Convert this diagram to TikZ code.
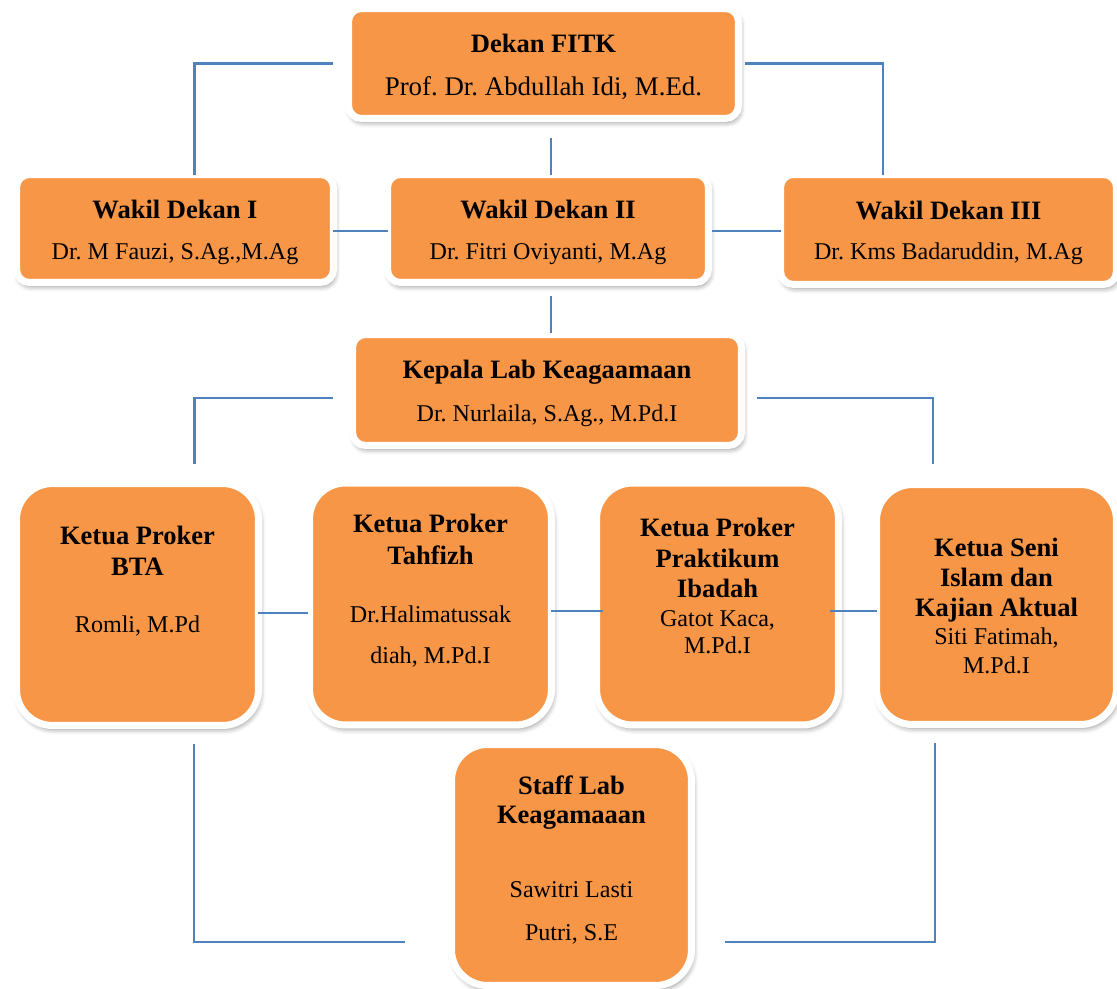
\documentclass[tikz,border=0pt]{standalone}
\usepackage{fontspec}
\setmainfont{Liberation Serif}
\usetikzlibrary{shadows.blur}
\definecolor{boxorange}{HTML}{F79646}
\definecolor{linkblue}{HTML}{4F81BD}
\frenchspacing
\begin{document}
\begin{tikzpicture}[x=0.02cm,y=-0.02cm,
  box/.style={draw=white, line width=0.14cm, fill=boxorange, rounded corners=0.26cm,
    outer sep=0pt, inner sep=0pt,
    blur shadow={shadow xshift=1pt, shadow yshift=-2.2pt, shadow blur radius=3pt, shadow opacity=45}},
  sqbox/.style={box, rounded corners=0.72cm, minimum width=4.84cm, minimum height=4.84cm},
  ttl/.style={anchor=base, font=\fontsize{15.1}{18}\selectfont\bfseries\frenchspacing, inner sep=0pt},
  nm/.style={anchor=base, font=\fontsize{13.7}{16}\selectfont\frenchspacing, inner sep=0pt},
  nmlarge/.style={nm, font=\fontsize{15.3}{18}\selectfont\frenchspacing},
  conn/.style={draw=linkblue, line width=1.2pt}]
\useasboundingbox (0,0) rectangle (1117,989);

% boxes
\node[box, minimum width=7.8cm, minimum height=2.2cm] (dekan) at (543.5,63.5) {};
\node[box, minimum width=6.34cm, minimum height=2.16cm] (wd1) at (175,228.5) {};
\node[box, minimum width=6.42cm, minimum height=2.16cm] (wd2) at (548,228.5) {};
\node[box, minimum width=6.72cm, minimum height=2.2cm] (wd3) at (948.5,229.5) {};
\node[box, minimum width=7.78cm, minimum height=2.22cm] (kepala) at (547,390) {};
\node[sqbox] (bta) at (137.5,604.5) {};
\node[sqbox] (tahfizh) at (430.5,604) {};
\node[sqbox] (prakt) at (717.5,604) {};
\node[sqbox, minimum width=4.8cm, minimum height=4.8cm] (seni) at (996.5,604.5) {};
\node[sqbox, minimum width=4.8cm, minimum height=4.82cm] (staff) at (571.5,865) {};

% texts
\node[ttl] (t-dekan) at (543.5,53) {Dekan FITK};
\node[nmlarge]  (n-dekan) at (543.5,96) {Prof. Dr. Abdullah Idi, M.Ed.};
\node[ttl] (t-wd1) at (175,219) {Wakil Dekan I};
\node[nm]  (n-wd1) at (175,260) {Dr. M Fauzi, S.Ag.,M.Ag};
\node[ttl] (t-wd2) at (548,219) {Wakil Dekan II};
\node[nm]  (n-wd2) at (548,260) {Dr. Fitri Oviyanti, M.Ag};
\node[ttl] (t-wd3) at (948.5,220) {Wakil Dekan III};
\node[nm]  (n-wd3) at (948.5,260) {Dr. Kms Badaruddin, M.Ag};
\node[ttl] (t-kep) at (547,379) {Kepala Lab Keagaamaan};
\node[nm]  (n-kep) at (547,422) {Dr. Nurlaila, S.Ag., M.Pd.I};

\node[ttl] (t-bta1) at (137.5,545) {Ketua Proker};
\node[ttl] (t-bta2) at (137.5,576) {BTA};
\node[nm]  (n-bta) at (137.5,633) {Romli, M.Pd};

\node[ttl] (t-tah1) at (430.5,533) {Ketua Proker};
\node[ttl] (t-tah2) at (430.5,565) {Tahfizh};
\node[nm]  (n-tah1) at (430.5,623) {Dr.Halimatussak};
\node[nm]  (n-tah2) at (430.5,664) {diah, M.Pd.I};

\node[ttl] (t-pra1) at (717.5,537) {Ketua Proker};
\node[ttl] (t-pra2) at (717.5,568) {Praktikum};
\node[ttl] (t-pra3) at (717.5,598) {Ibadah};
\node[nm]  (n-pra1) at (717.5,627) {Gatot Kaca,};
\node[nm]  (n-pra2) at (717.5,654) {M.Pd.I};

\node[ttl] (t-sen1) at (996.5,557) {Ketua Seni};
\node[ttl] (t-sen2) at (996.5,587) {Islam dan};
\node[ttl] (t-sen3) at (996.5,617) {Kajian Aktual};
\node[nm]  (n-sen1) at (996.5,645) {Siti Fatimah,};
\node[nm]  (n-sen2) at (996.5,674) {M.Pd.I};

\node[ttl] (t-stf1) at (571.5,795) {Staff Lab};
\node[ttl] (t-stf2) at (571.5,824) {Keagamaaan};
\node[nm]  (n-stf1) at (571.5,898) {Sawitri Lasti};
\node[nm]  (n-stf2) at (571.5,941) {Putri, S.E};

% connectors
\draw[conn] ([xshift=-0.31cm]dekan.west) -| ([xshift=0.39cm]wd1.north);
\draw[conn] ([xshift=0.13cm]dekan.east) -| ([xshift=-1.31cm]wd3.north);
\draw[conn, shorten >=0.39cm] ([xshift=0.06cm]wd2.north) -- ([xshift=0.06cm]wd2.north |- dekan.south);
\draw[conn] ([yshift=-0.05cm]wd1.east) -- ([yshift=-0.05cm]wd1.east -| wd2.west);
\draw[conn, shorten <=0.07cm] ([yshift=-0.05cm]wd2.east) -- ([yshift=-0.05cm]wd2.east -| wd3.west);
\draw[conn, shorten <=0.27cm, shorten >=0.03cm] ([xshift=0.06cm]wd2.south) -- ([xshift=0.06cm]wd2.south |- kepala.north);
\draw[conn, shorten >=0.39cm] ([xshift=-0.39cm,yshift=-0.16cm]kepala.west) -| ([xshift=1.14cm]bta.north);
\draw[conn, shorten >=0.41cm] ([xshift=0.31cm,yshift=-0.16cm]kepala.east) -| ([xshift=-1.27cm]seni.north);
\draw[conn, shorten >=0.03cm] ([yshift=-0.17cm]bta.east) -- ([yshift=-0.17cm]bta.east -| tahfizh.west);
\draw[conn, shorten >=-0.13cm] ([yshift=-0.14cm]tahfizh.east) -- ([yshift=-0.14cm]tahfizh.east -| prakt.west);
\draw[conn, shorten <=-0.17cm] ([yshift=-0.14cm]prakt.east) -- ([yshift=-0.14cm]prakt.east -| seni.west);
\draw[conn, shorten <=0.37cm, shorten >=0.93cm] ([xshift=1.13cm]bta.south) |- ([yshift=-1.54cm]staff.west);
\draw[conn, shorten <=0.37cm, shorten >=0.67cm] ([xshift=-1.23cm]seni.south) |- ([yshift=-1.54cm]staff.east);
\end{tikzpicture}
\end{document}
